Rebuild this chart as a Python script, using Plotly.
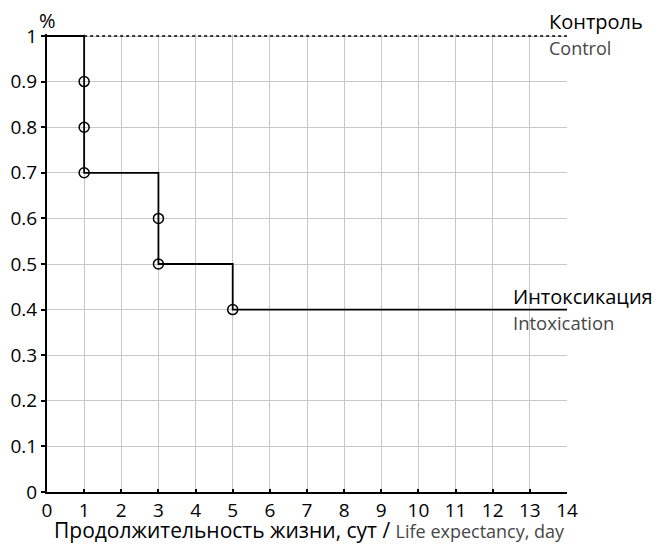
import plotly.graph_objects as go

# Data
intox_x = [0, 1, 1, 1, 1, 3, 3, 3, 5, 5, 14]
intox_y = [1, 1, 0.9, 0.8, 0.7, 0.7, 0.6, 0.5, 0.5, 0.4, 0.4]
marker_x = [1, 1, 1, 3, 3, 5]
marker_y = [0.9, 0.8, 0.7, 0.6, 0.5, 0.4]
control_x = [1, 14]
control_y = [1, 1]
x_ticks = list(range(0, 15))
y_ticks = [0, 0.1, 0.2, 0.3, 0.4, 0.5, 0.6, 0.7, 0.8, 0.9, 1]
y_ticktext = ["0", "0.1", "0.2", "0.3", "0.4", "0.5", "0.6", "0.7", "0.8", "0.9", "1"]

FONT = "Open Sans"

# page pixel geometry (browser body has an 8px margin)
PL, PR, PT, PB = 47, 567, 34, 492


def px(xp):
    return (xp - PL) / (PR - PL)


def py(yp):
    return (PB - yp) / (PB - PT)


fig = go.Figure()
fig.add_trace(go.Scatter(x=control_x, y=control_y, mode="lines",
                         line=dict(color="black", width=1.5, dash="dot"),
                         showlegend=False, hoverinfo="skip"))
fig.add_trace(go.Scatter(x=intox_x, y=intox_y, mode="lines",
                         line=dict(color="black", width=1.8),
                         showlegend=False))
fig.add_trace(go.Scatter(x=marker_x, y=marker_y, mode="markers",
                         marker=dict(symbol="circle-open", size=10, color="black",
                                     line=dict(width=1.5, color="black")),
                         cliponaxis=False, showlegend=False))

fig.update_layout(
    width=653, height=537,
    margin=dict(l=PL - 8, r=661 - PR, t=PT - 8, b=545 - PB),
    plot_bgcolor="white", paper_bgcolor="white",
    font=dict(family=FONT, color="black", size=19),
    xaxis=dict(range=[0, 14], tickvals=x_ticks, showgrid=True, gridcolor="#c8c8c8",
               gridwidth=1, showline=True, linecolor="black", linewidth=2,
               zeroline=False, ticks="inside", ticklen=3, tickwidth=1.5,
               tickcolor="black", tickfont=dict(size=19, color="black"),
               automargin=False),
    yaxis=dict(range=[0, 1 + 2 / 456], tickvals=y_ticks, ticktext=y_ticktext,
               showgrid=True, gridcolor="#c8c8c8", gridwidth=1,
               showline=True, linecolor="black", linewidth=2, zeroline=False,
               ticks="outside", ticklen=4, tickwidth=1.5, tickcolor="black",
               tickfont=dict(size=19, color="black"), automargin=False),
)

GRAY = "#474747"
ann = [
    dict(text="%", x=px(47), y=py(21), xanchor="center", yanchor="middle",
         font=dict(size=20, color="black")),
    dict(text="Контроль", x=px(547), y=py(22), xanchor="left", yanchor="middle",
         font=dict(size=20, color="black")),
    dict(text="Control", x=px(547), y=py(48), xanchor="left", yanchor="middle",
         font=dict(size=18, color=GRAY)),
    dict(text="Интоксикация", x=px(511), y=py(296), xanchor="left", yanchor="middle",
         font=dict(size=20, color="black")),
    dict(text="Intoxication", x=px(511), y=py(322), xanchor="left", yanchor="middle",
         font=dict(size=18.5, color=GRAY)),
    dict(text="Продолжительность жизни, сут / <span style='font-size:18px;color:" + GRAY + "'>Life expectancy, day</span>",
         x=px(309), y=py(530), xanchor="center", yanchor="middle",
         font=dict(size=21, color="black")),
]
for a in ann:
    a.update(xref="paper", yref="paper", showarrow=False)
fig.update_layout(annotations=ann)

fig.write_html("out.html")
